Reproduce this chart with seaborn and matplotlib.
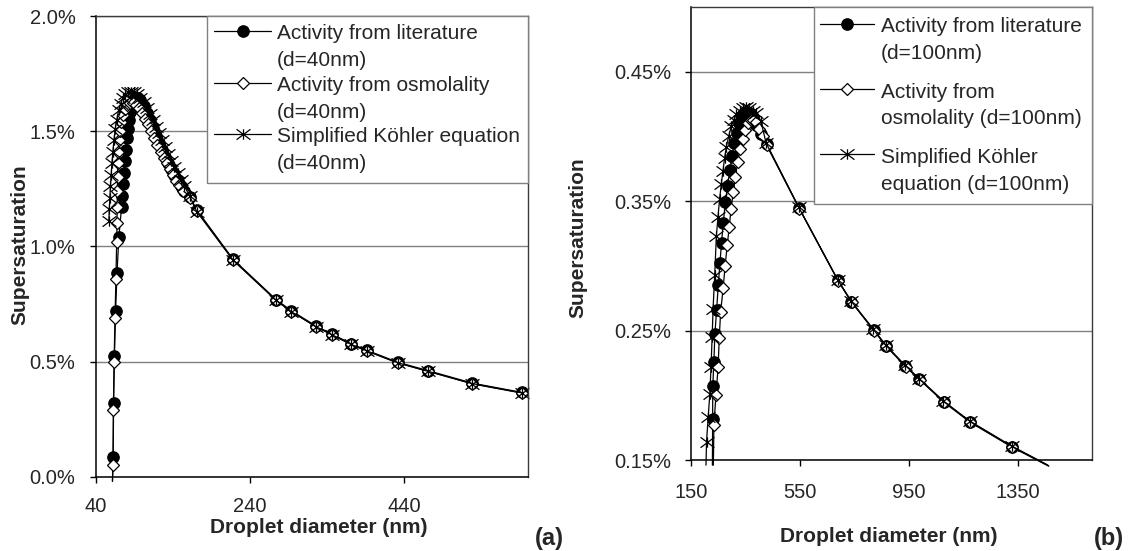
import numpy as np
import matplotlib
matplotlib.use("Agg")
import matplotlib.pyplot as plt
import seaborn as sns
from matplotlib.path import Path
from matplotlib.patches import Rectangle

# ---------------- Panel (a) data : d = 40 nm (supersaturation in %) ----------------
A_lit_x = [61.8, 62.6, 63.2, 64.3, 65.8, 67.6, 70.0, 73.5, 74.5, 75.5, 76.5, 77.5, 78.7, 80.0, 81.5,
           83.2, 85.0, 87.2, 89.5, 92.0, 95.0, 98.0, 102.0, 106.0, 110.0, 114.0, 118.0, 122.0, 126.0,
           130.0, 134.0, 138.0, 142.0, 146.0, 150.0, 155.0, 161.6, 171.0, 218.0, 274.0, 293.6, 325.0,
           345.6, 371.0, 392.0, 431.0, 470.0, 528.0, 592.0]
A_lit_y = [-0.02, 0.085, 0.32, 0.525, 0.72, 0.885, 1.04, 1.17, 1.22, 1.27, 1.32, 1.37, 1.42, 1.47, 1.51,
           1.55, 1.585, 1.615, 1.635, 1.645, 1.645, 1.635, 1.61, 1.58, 1.55, 1.515, 1.48, 1.45, 1.42,
           1.39, 1.36, 1.335, 1.31, 1.285, 1.26, 1.24, 1.216, 1.158, 0.944, 0.768, 0.72, 0.655,
           0.62, 0.577, 0.548, 0.497, 0.461, 0.406, 0.366]

A_osm_x = [61.6, 62.4, 62.9, 63.8, 65.0, 66.2, 67.2, 67.6, 67.8, 68.0, 68.3, 68.7, 69.3, 70.2, 71.4,
           73.0, 75.0, 77.5, 80.5, 84.0, 88.0, 92.0, 96.0, 100.0, 104.0, 108.0, 112.0, 116.0, 120.0,
           124.0, 128.0, 132.0, 136.0, 140.0, 144.0, 148.0, 153.0, 161.6, 171.0, 218.0, 274.0, 293.6,
           325.0, 345.6, 371.0, 392.0, 431.0, 470.0, 528.0, 592.0]
A_osm_y = [-0.02, 0.05, 0.29, 0.50, 0.69, 0.86, 1.02, 1.10, 1.17, 1.24, 1.30, 1.36, 1.41, 1.46, 1.50,
           1.54, 1.57, 1.595, 1.612, 1.622, 1.622, 1.615, 1.60, 1.58, 1.555, 1.53, 1.50, 1.47, 1.44,
           1.41, 1.385, 1.36, 1.335, 1.31, 1.285, 1.265, 1.24, 1.212, 1.155, 0.94, 0.765, 0.717,
           0.652, 0.617, 0.574, 0.545, 0.494, 0.458, 0.403, 0.363]

A_kol_x = [57.0, 57.6, 58.3, 59.1, 60.0, 61.0, 62.2, 63.6, 65.3, 67.3, 69.6, 72.3, 75.3, 78.6, 82.2,
           86.0, 90.0, 94.0, 98.0, 102.0, 106.0, 110.0, 114.0, 118.0, 122.0, 126.0, 130.0, 134.0,
           138.0, 142.0, 146.0, 150.0, 155.0, 161.6, 171.0, 218.0, 274.0, 293.6, 325.0, 345.6, 371.0,
           392.0, 431.0, 470.0, 528.0, 592.0]
A_kol_y = [1.11, 1.16, 1.21, 1.26, 1.31, 1.36, 1.41, 1.46, 1.51, 1.55, 1.59, 1.62, 1.645, 1.66, 1.67,
           1.672, 1.668, 1.66, 1.645, 1.625, 1.60, 1.575, 1.55, 1.52, 1.49, 1.46, 1.43, 1.40,
           1.37, 1.345, 1.32, 1.29, 1.26, 1.22, 1.15, 0.94, 0.765, 0.716, 0.652, 0.617, 0.574,
           0.545, 0.495, 0.458, 0.404, 0.364]

A_labels = ["Activity from literature\n(d=40nm)",
            "Activity from osmolality\n(d=40nm)",
            "Simplified Köhler equation\n(d=40nm)"]
A_xticks = [40, 240, 440]
A_xticklabels = ["40", "240", "440"]
A_yticks = [0.0, 0.5, 1.0, 1.5, 2.0]
A_yticklabels = ["0.0%", "0.5%", "1.0%", "1.5%", "2.0%"]

# ---------------- Panel (b) data : d = 100 nm ----------------
B_lit_x = [229.5, 230.4, 230.8, 235.0, 238.5, 245.0, 251.0, 257.0, 263.0, 269.0, 277.0, 285.0, 293.5,
           301.0, 309.0, 318.0, 327.0, 337.0, 347.0, 357.0, 367.0, 377.0, 391.0, 406.0, 427.8, 547.0,
           689.5, 738.5, 820.0, 866.0, 936.0, 988.0, 1077.0, 1173.0, 1327.0, 1460.0]
B_lit_y = [0.146, 0.182, 0.207, 0.226, 0.247, 0.266, 0.285, 0.302, 0.318, 0.333, 0.349, 0.362, 0.374,
           0.385, 0.395, 0.403, 0.410, 0.415, 0.418, 0.419, 0.418, 0.415, 0.409, 0.402, 0.394, 0.3447,
           0.2887, 0.2724, 0.2505, 0.2382, 0.2227, 0.2124, 0.1951, 0.1796, 0.1603, 0.1456]

B_osm_x = [233.0, 235.0, 242.5, 250.5, 254.5, 259.5, 269.0, 276.0, 284.0, 291.0, 298.0, 306.0, 314.0,
           322.0, 331.0, 340.0, 350.0, 360.0, 370.0, 380.0, 390.0, 402.0, 414.0, 428.5, 548.0, 690.5,
           739.5, 821.0, 867.0, 937.0, 989.0, 1078.0, 1174.0, 1328.0, 1462.0]
B_osm_y = [0.146, 0.177, 0.200, 0.222, 0.244, 0.264, 0.283, 0.300, 0.316, 0.330, 0.344, 0.357, 0.369,
           0.380, 0.390, 0.398, 0.405, 0.410, 0.413, 0.413, 0.411, 0.406, 0.400, 0.393, 0.3442, 0.2882,
           0.2719, 0.2500, 0.2377, 0.2222, 0.2119, 0.1946, 0.1791, 0.1598, 0.1452]

B_kol_x = [206.0, 208.0, 214.0, 220.0, 224.5, 228.5, 232.0, 238.0, 244.0, 250.0, 256.0, 262.0, 268.0,
           274.0, 280.5, 289.0, 299.0, 308.0, 317.0, 329.0, 341.0, 353.0, 365.0, 377.0, 389.0, 407.0,
           426.0, 546.0, 688.5, 737.5, 819.0, 865.0, 935.0, 987.0, 1076.0, 1172.0, 1326.0, 1458.0]
B_kol_y = [0.146, 0.164, 0.183, 0.201, 0.222, 0.245, 0.267, 0.293, 0.323, 0.338, 0.352, 0.363, 0.373,
           0.383, 0.392, 0.400, 0.408, 0.413, 0.417, 0.420, 0.422, 0.4225, 0.422, 0.420, 0.418, 0.412,
           0.395, 0.3452, 0.2892, 0.2729, 0.2510, 0.2387, 0.2232, 0.2129, 0.1956, 0.1801, 0.1608, 0.1461]

B_labels = ["Activity from literature\n(d=100nm)",
            "Activity from\nosmolality (d=100nm)",
            "Simplified Köhler\nequation (d=100nm)"]
B_xticks = [150, 550, 950, 1350]
B_xticklabels = ["150", "550", "950", "1350"]
B_yticks = [0.15, 0.25, 0.35, 0.45]
B_yticklabels = ["0.15%", "0.25%", "0.35%", "0.45%"]

X_LABEL = "Droplet diameter (nm)"
Y_LABEL = "Supersaturation"

# ---------------- styling ----------------
sns.set_style("white")
plt.rcParams["font.family"] = ["Liberation Sans", "DejaVu Sans"]

STAR = Path([(0, -0.75), (0, 0.75), (-1, -0.75), (1, 0.75), (-1, 0.75), (1, -0.75)],
            [Path.MOVETO, Path.LINETO, Path.MOVETO, Path.LINETO, Path.MOVETO, Path.LINETO])

W, H = 1131, 551
fig = plt.figure(figsize=(W / 100, H / 100), dpi=100)
fig.patch.set_facecolor("white")
axA = fig.add_axes([95.7 / W, (H - 476.7) / H, 432.3 / W, 460.7 / H])
axB = fig.add_axes([690.7 / W, (H - 460) / H, 401.3 / W, 453 / H])


def series(ax, x, y, label, kind, trim_start, trim_end):
    n = len(x)
    idx = list(range(1 if trim_start else 0, n - 1 if trim_end else n))
    common = dict(ax=ax, sort=False, estimator=None, color="black", linewidth=0.9,
                  markeredgecolor="black", markeredgewidth=0.9, markevery=idx,
                  label=label, clip_on=False, legend=False)
    if kind == "lit":
        sns.lineplot(x=x, y=y, marker="o", markersize=8.2, markerfacecolor="black", **common)
    elif kind == "osm":
        sns.lineplot(x=x, y=y, marker="D", markersize=6.3, markerfacecolor="white", **common)
    else:
        sns.lineplot(x=x, y=y, marker=STAR, markersize=10, markerfacecolor="none", **common)


series(axA, A_lit_x, A_lit_y, A_labels[0], "lit", True, False)
series(axA, A_osm_x, A_osm_y, A_labels[1], "osm", True, False)
series(axA, A_kol_x, A_kol_y, A_labels[2], "kol", False, False)

series(axB, B_lit_x, B_lit_y, B_labels[0], "lit", True, True)
series(axB, B_osm_x, B_osm_y, B_labels[1], "osm", True, True)
series(axB, B_kol_x, B_kol_y, B_labels[2], "kol", True, True)


def style_axes(ax, xlim, ylim, xt, xtl, yt, ytl, xpad, ypad):
    ax.set_xlim(*xlim)
    ax.set_ylim(*ylim)
    ax.set_xticks(xt)
    ax.set_xticklabels(xtl)
    ax.set_yticks(yt)
    ax.set_yticklabels(ytl)
    ax.set_facecolor("white")
    ax.set_axisbelow(True)
    ax.yaxis.grid(True, color="#808080", linewidth=1.0)
    ax.xaxis.grid(False)
    for s in ("left", "bottom"):
        ax.spines[s].set_color("black")
        ax.spines[s].set_linewidth(1.1)
    for s in ("top", "right"):
        ax.spines[s].set_color("#3a3a3a")
        ax.spines[s].set_linewidth(1.0)
    ax.tick_params(axis="x", direction="out", length=4, width=1, color="black",
                   labelsize=14.5, pad=xpad, bottom=True)
    ax.tick_params(axis="y", direction="out", length=4, width=1, color="black",
                   labelsize=14.5, pad=ypad, left=True)


style_axes(axA, (40, 600), (0.0, 2.0), A_xticks, A_xticklabels, A_yticks, A_yticklabels, 10.3, 10.5)
style_axes(axB, (150, 1620), (0.15, 0.50), B_xticks, B_xticklabels, B_yticks, B_yticklabels, 12.8, 10.0)

for ax, xc, yc, ylx, yly in ((axA, 0.515, -0.1105, -0.175, 0.503),
                              (axB, 0.493, -0.168, -0.281, 0.49)):
    ax.set_xlabel(X_LABEL, fontsize=15, fontweight="bold")
    ax.set_ylabel(Y_LABEL, fontsize=15, fontweight="bold")
    ax.xaxis.set_label_coords(xc, yc)
    ax.xaxis.label.set_va("center")
    ax.yaxis.set_label_coords(ylx, yly)
    ax.yaxis.label.set_va("center")


def make_legend(ax, labelspacing, textpad, borderpad, hlen, shift, box_x0, box_y0):
    # Excel-style legend box (white, grey border) in axes fraction
    ax.add_patch(Rectangle((box_x0, box_y0), 1.0 - box_x0, 1.0 - box_y0,
                           transform=ax.transAxes, facecolor="white", edgecolor="#808080",
                           linewidth=1.0, zorder=4.5, clip_on=False))
    leg = ax.legend(loc="upper right", bbox_to_anchor=(1.0, 1.0), borderaxespad=0.0,
                    frameon=False, fontsize=15, handlelength=hlen, handletextpad=textpad,
                    borderpad=borderpad, labelspacing=labelspacing)
    leg.set_zorder(5)
    for t in leg.get_texts():
        t.set_linespacing(1.53)
    for h in leg.legend_handles:
        h.set_ydata(np.asarray(h.get_ydata(), dtype=float) + shift)
    return leg


make_legend(axA, 0.27, 0.25, 0.4, 2.78, 11.8, (207 - 95.7) / 432.3, (476.7 - 183) / 460.7)
make_legend(axB, 0.92, 0.3, 0.5, 2.6, 11.8, (814 - 690.7) / 401.3, (460 - 204) / 453)

fig.text(549 / W, 1 - 538 / H, "(a)", fontsize=17, fontweight="bold", ha="center", va="center")
fig.text(1109 / W, 1 - 538 / H, "(b)", fontsize=17, fontweight="bold", ha="center", va="center")

fig.savefig("out.png", dpi=100, facecolor="white")
